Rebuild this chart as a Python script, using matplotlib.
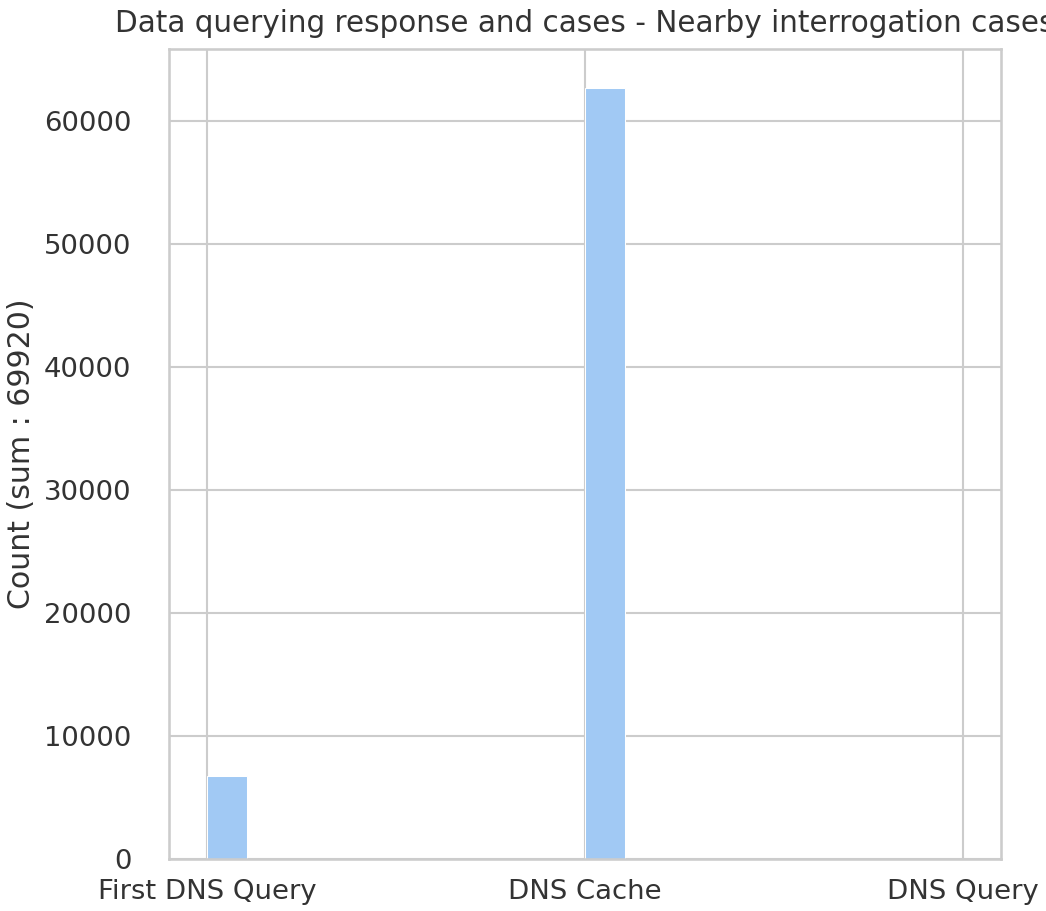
import matplotlib
matplotlib.use("Agg")
import matplotlib.pyplot as plt
import seaborn as sns

# data
categories = ["First DNS Query", "DNS Cache", "DNS Query"]
counts = [6750, 62700, 0]
total = 69920

sns.set_theme(style="whitegrid", palette="pastel", font_scale=1.2)
plt.rcParams['font.family'] = ['DejaVu Sans']
plt.rcParams['text.color'] = '#333333'
plt.rcParams['axes.labelcolor'] = '#333333'
plt.rcParams['xtick.color'] = '#333333'
plt.rcParams['ytick.color'] = '#333333'

fig = plt.figure(figsize=(1046/150, 911/150), dpi=150)
ax = fig.add_axes([169/1046, 52/911, 832/1046, 810/911])

pos = list(range(len(categories)))
ax.bar(pos, counts, width=0.106, align="edge", color="#a1c9f4",
       edgecolor="white", linewidth=0.5)

ax.set_xlim(-0.1, 2.1)
ax.set_ylim(0, max(counts)*1.05)
ax.set_xticks(pos)
ax.set_xticklabels(categories)
ax.tick_params(axis="y", pad=12)
ax.set_ylabel("Count (sum : %d)" % total)
ax.set_title("Data querying response and cases - Nearby interrogation cases",
             fontsize=14.2, pad=8)

fig.savefig("out.png", dpi=150)
